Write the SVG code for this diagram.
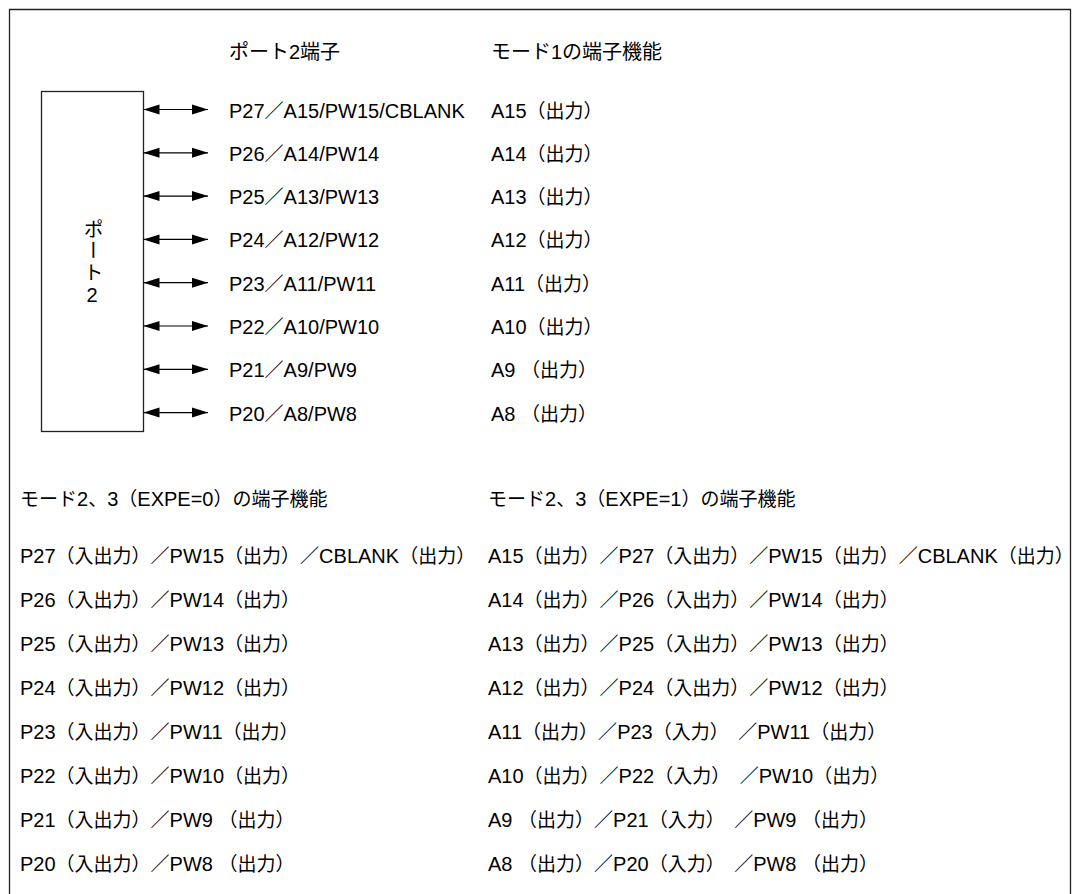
<svg xmlns="http://www.w3.org/2000/svg" width="1080" height="894" viewBox="0 0 1080 894">
<style>
text { font-family: "Liberation Sans", "Noto Sans CJK JP", sans-serif; font-size: 20px; fill: #000; }
.j { font-size: 19px; }
.frame { fill: none; stroke: #222; stroke-width: 1.3; }
.box { fill: #fff; stroke: #222; stroke-width: 1.3; }
.conn { stroke: #000; stroke-width: 1.2; marker-start: url(#ah); marker-end: url(#ah); }
.vlabel { writing-mode: vertical-rl; text-orientation: upright; letter-spacing: 1.5px; }
</style>
<defs>
<marker id="ah" markerUnits="userSpaceOnUse" markerWidth="18" markerHeight="12" refX="16" refY="5.5" orient="auto-start-reverse">
<path d="M0,0.5 L16,5.5 L0,10.5 z" fill="#000"/>
</marker>
</defs>
<rect width="1080" height="894" fill="#fff"/>
<path class="frame" d="M9.5,900 V9.5 H1070.5 V900"/>

<g id="headers">
<text x="229" y="59">ポート2端子</text>
<text x="491" y="59">モード1の端子機能</text>
</g>

<g id="port2">
<rect class="box" x="41.5" y="91.5" width="102" height="340"/>
<text class="vlabel" x="92" y="219">ポート2</text>
</g>

<g id="connectors">
<line class="conn" x1="143.5" y1="109.5" x2="208" y2="109.5"/>
<line class="conn" x1="143.5" y1="152.8" x2="208" y2="152.8"/>
<line class="conn" x1="143.5" y1="196.1" x2="208" y2="196.1"/>
<line class="conn" x1="143.5" y1="239.4" x2="208" y2="239.4"/>
<line class="conn" x1="143.5" y1="282.7" x2="208" y2="282.7"/>
<line class="conn" x1="143.5" y1="326" x2="208" y2="326"/>
<line class="conn" x1="143.5" y1="369.3" x2="208" y2="369.3"/>
<line class="conn" x1="143.5" y1="412.6" x2="208" y2="412.6"/>
</g>

<g id="pins" xml:space="preserve">
<g id="pin-p27"><text x="229" y="117.5">P27<tspan class="j">／</tspan>A15/PW15/CBLANK</text><text x="491" y="117.5">A15<tspan class="j">（出力）</tspan></text></g>
<g id="pin-p26"><text x="229" y="160.8">P26<tspan class="j">／</tspan>A14/PW14</text><text x="491" y="160.8">A14<tspan class="j">（出力）</tspan></text></g>
<g id="pin-p25"><text x="229" y="204.1">P25<tspan class="j">／</tspan>A13/PW13</text><text x="491" y="204.1">A13<tspan class="j">（出力）</tspan></text></g>
<g id="pin-p24"><text x="229" y="247.4">P24<tspan class="j">／</tspan>A12/PW12</text><text x="491" y="247.4">A12<tspan class="j">（出力）</tspan></text></g>
<g id="pin-p23"><text x="229" y="290.7">P23<tspan class="j">／</tspan>A11/PW11</text><text x="491" y="290.7">A11<tspan class="j">（出力）</tspan></text></g>
<g id="pin-p22"><text x="229" y="334">P22<tspan class="j">／</tspan>A10/PW10</text><text x="491" y="334">A10<tspan class="j">（出力）</tspan></text></g>
<g id="pin-p21"><text x="229" y="377.3">P21<tspan class="j">／</tspan>A9/PW9</text><text x="491" y="377.3">A9  <tspan class="j">（出力）</tspan></text></g>
<g id="pin-p20"><text x="229" y="420.6">P20<tspan class="j">／</tspan>A8/PW8</text><text x="491" y="420.6">A8  <tspan class="j">（出力）</tspan></text></g>
</g>

<g id="mode23" xml:space="preserve">
<text x="20" y="506"><tspan class="j">モード</tspan>2<tspan class="j">、</tspan>3<tspan class="j">（</tspan>EXPE=0<tspan class="j">）の端子機能</tspan></text>
<text x="488" y="506"><tspan class="j">モード</tspan>2<tspan class="j">、</tspan>3<tspan class="j">（</tspan>EXPE=1<tspan class="j">）の端子機能</tspan></text>

<text x="20" y="563">P27<tspan class="j">（入出力）／</tspan>PW15<tspan class="j">（出力）／</tspan>CBLANK<tspan class="j">（出力）</tspan></text>
<text x="20" y="607">P26<tspan class="j">（入出力）／</tspan>PW14<tspan class="j">（出力）</tspan></text>
<text x="20" y="651">P25<tspan class="j">（入出力）／</tspan>PW13<tspan class="j">（出力）</tspan></text>
<text x="20" y="695">P24<tspan class="j">（入出力）／</tspan>PW12<tspan class="j">（出力）</tspan></text>
<text x="20" y="739">P23<tspan class="j">（入出力）／</tspan>PW11<tspan class="j">（出力）</tspan></text>
<text x="20" y="783">P22<tspan class="j">（入出力）／</tspan>PW10<tspan class="j">（出力）</tspan></text>
<text x="20" y="827">P21<tspan class="j">（入出力）／</tspan>PW9  <tspan class="j">（出力）</tspan></text>
<text x="20" y="871">P20<tspan class="j">（入出力）／</tspan>PW8  <tspan class="j">（出力）</tspan></text>

<text x="488" y="563">A15<tspan class="j">（出力）／</tspan>P27<tspan class="j">（入出力）／</tspan>PW15<tspan class="j">（出力）／</tspan>CBLANK<tspan class="j">（出力）</tspan></text>
<text x="488" y="607">A14<tspan class="j">（出力）／</tspan>P26<tspan class="j">（入出力）／</tspan>PW14<tspan class="j">（出力）</tspan></text>
<text x="488" y="651">A13<tspan class="j">（出力）／</tspan>P25<tspan class="j">（入出力）／</tspan>PW13<tspan class="j">（出力）</tspan></text>
<text x="488" y="695">A12<tspan class="j">（出力）／</tspan>P24<tspan class="j">（入出力）／</tspan>PW12<tspan class="j">（出力）</tspan></text>
<text x="488" y="739">A11<tspan class="j">（出力）／</tspan>P23<tspan class="j">（入力）　／</tspan>PW11<tspan class="j">（出力）</tspan></text>
<text x="488" y="783">A10<tspan class="j">（出力）／</tspan>P22<tspan class="j">（入力）　／</tspan>PW10<tspan class="j">（出力）</tspan></text>
<text x="488" y="827">A9  <tspan class="j">（出力）／</tspan>P21<tspan class="j">（入力）　／</tspan>PW9  <tspan class="j">（出力）</tspan></text>
<text x="488" y="871">A8  <tspan class="j">（出力）／</tspan>P20<tspan class="j">（入力）　／</tspan>PW8  <tspan class="j">（出力）</tspan></text>
</g>
</svg>
